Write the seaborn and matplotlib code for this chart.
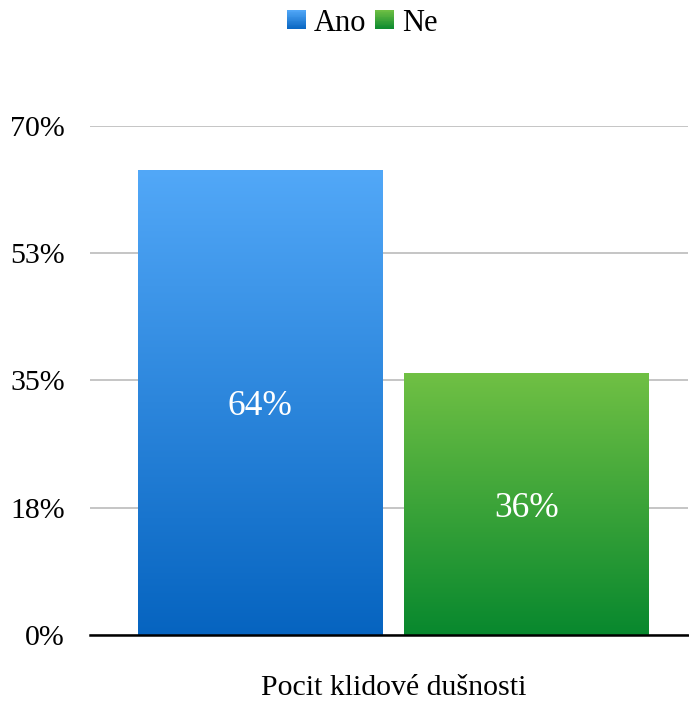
import numpy as np
import pandas as pd
import matplotlib
matplotlib.use("Agg")
import matplotlib.pyplot as plt
import seaborn as sns
from matplotlib.colors import LinearSegmentedColormap
from matplotlib.patches import Rectangle
from matplotlib.legend_handler import HandlerBase

categories = ["Pocit klidové dušnosti"]
series = ["Ano", "Ne"]
values = [64, 36]
yticks = [0, 17.5, 35, 52.5, 70]
ytick_labels = ["0%", "18%", "35%", "53%", "70%"]

top_colors = ["#52a8f8", "#70c044"]
bottom_colors = ["#0664c0", "#08882e"]
mid_colors = ["#2b86dc", "#3ca43a"]

df = pd.DataFrame({"cat": categories * len(series), "series": series, "value": values})

sns.set_theme(style="white")
plt.rcParams["font.family"] = ["Liberation Serif", "DejaVu Serif"]
plt.rcParams["text.color"] = "black"

fig = plt.figure(figsize=(6.89, 7.02), dpi=100)
ax = fig.add_axes([90 / 689, 67 / 702, 598 / 689, 509 / 702])

sns.barplot(data=df, x="cat", y="value", hue="series", palette=mid_colors,
            gap=0.08, width=0.8, ax=ax, legend=False)

cmaps = [LinearSegmentedColormap.from_list(f"g{i}", [bottom_colors[i], top_colors[i]])
         for i in range(len(series))]

for i, p in enumerate(ax.patches):
    x0, y0 = p.get_x(), p.get_y()
    w, h = p.get_width(), p.get_height()
    grad = np.linspace(0, 1, 256).reshape(-1, 1)
    im = ax.imshow(grad, cmap=cmaps[i], origin="lower", aspect="auto",
                   extent=[x0, x0 + w, y0, y0 + h], zorder=2)
    im.set_clip_path(p)
    p.set_facecolor("none")
    p.set_edgecolor("none")
    ax.text(x0 + w / 2, h / 2, f"{values[i]:.0f}%", ha="center", va="center_baseline",
            color="white", fontsize=25.5, zorder=3)

ax.set_ylim(0, 70)
ax.set_xlim(-0.456, 0.443)
ax.set_yticks(yticks)
ax.set_yticklabels(ytick_labels, fontsize=21.5, color="black")
ax.tick_params(axis="x", labelsize=21.5, colors="black", pad=28.5, length=0)
ax.tick_params(axis="y", length=0, pad=18)
ax.set_xlabel("")
ax.set_ylabel("")
ax.yaxis.grid(True, color="#c0c0c0", linewidth=1.3)
ax.set_axisbelow(True)
for s in ["left", "right", "top"]:
    ax.spines[s].set_visible(False)
ax.spines["bottom"].set_color("black")
ax.spines["bottom"].set_linewidth(1.8)
ax.spines["bottom"].set_zorder(5)


class GradHandler(HandlerBase):
    def __init__(self, cmap):
        super().__init__()
        self.cmap = cmap

    def create_artists(self, legend, orig_handle, xdescent, ydescent, width, height,
                       fontsize, trans):
        n = 24
        arts = []
        for k in range(n):
            r = Rectangle((-xdescent, -ydescent + height * k / n), width, height / n + 0.3,
                          facecolor=self.cmap((k + 0.5) / n), edgecolor="none",
                          transform=trans)
            arts.append(r)
        return arts


handles = [Rectangle((0, 0), 1, 1, facecolor=c, edgecolor="none") for c in mid_colors]
fig.legend(handles, series, loc="upper center", bbox_to_anchor=(0.526, 1.027), ncol=2,
           frameon=False, fontsize=22, handlelength=0.6, handleheight=0.6,
           handletextpad=0.27, columnspacing=0.3, labelcolor="black",
           handler_map={handles[i]: GradHandler(cmaps[i]) for i in range(len(series))})

fig.savefig("out.png", dpi=100)
